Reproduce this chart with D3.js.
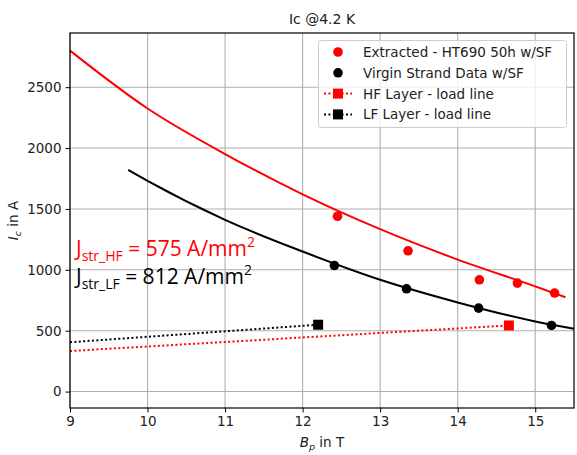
<!DOCTYPE html>
<html>
<head>
<meta charset="utf-8">
<script src="https://cdn.jsdelivr.net/npm/d3@7"></script>
<style>
	body { margin: 0; background: #fff; }
	text { font-family: "DejaVu Sans", sans-serif; }
</style>
</head>
<body>
<svg id="chart"></svg>
<script>
// Extracted Ic (HT690 50h w/SF)
const extractedB = [12.45, 13.36, 14.28, 14.77, 15.25];
const extractedIc = [1440, 1156, 918, 891, 809];

// Virgin strand data w/SF
const virginB = [12.41, 13.34, 14.27, 15.21];
const virginIc = [1035, 844, 685, 543];

// fitted curves
const redFitB = [9, 10, 11, 12, 13, 14, 15, 15.39];
const redFitIc = [2800, 2325, 1951, 1620, 1334, 1084, 864, 775];
const blackFitB = [9.75, 10, 11, 12, 13, 14, 15, 15.5];
const blackFitIc = [1820, 1730, 1410, 1150, 918, 732, 576, 516];

// load lines
const hfLoadB = [9, 14.66];
const hfLoadIc = [333, 543];
const lfLoadB = [9, 12.2];
const lfLoadIc = [405, 549];

const xTicks = [9, 10, 11, 12, 13, 14, 15];
const yTicks = [0, 500, 1000, 1500, 2000, 2500];

const width = 577;
const height = 455;
const margin = { top: 33, right: 3, bottom: 47, left: 70 };

const svg = d3.select("#chart")
	.attr("width", width)
	.attr("height", height);

const x = d3.scaleLinear()
	.domain([9, 15.5])
	.range([margin.left, width - margin.right]);

const y = d3.scaleLinear()
	.domain([-135, 2945])
	.range([height - margin.bottom, margin.top]);

const zip = (a, b) => a.map((v, i) => [v, b[i]]);

// grid
svg.append("g")
	.selectAll("line")
	.data(xTicks)
	.join("line")
	.attr("x1", (d) => x(d)).attr("x2", (d) => x(d))
	.attr("y1", margin.top).attr("y2", height - margin.bottom)
	.attr("stroke", "#b0b0b0").attr("stroke-width", 1.1);

svg.append("g")
	.selectAll("line")
	.data(yTicks)
	.join("line")
	.attr("x1", margin.left).attr("x2", width - margin.right)
	.attr("y1", (d) => y(d)).attr("y2", (d) => y(d))
	.attr("stroke", "#b0b0b0").attr("stroke-width", 1.1);

// axes
const xAxis = svg.append("g")
	.attr("transform", `translate(0,${height - margin.bottom})`)
	.call(d3.axisBottom(x).tickValues(xTicks).tickSize(4.5).tickPadding(4).tickFormat(d3.format("d")));
const yAxis = svg.append("g")
	.attr("transform", `translate(${margin.left},0)`)
	.call(d3.axisLeft(y).tickValues(yTicks).tickSize(4.5).tickPadding(4).tickFormat(d3.format("d")));

[xAxis, yAxis].forEach((g) => {
	g.select(".domain").remove();
	g.selectAll("text")
		.style("font-family", "DejaVu Sans")
		.style("font-size", "13.5px")
		.attr("fill", "#222");
	g.selectAll("line").attr("stroke", "#000").attr("stroke-width", 1);
});

const plotArea = svg.append("g");

const line = d3.line()
	.x((d) => x(d[0]))
	.y((d) => y(d[1]))
	.curve(d3.curveMonotoneX);

// fit curves
plotArea.append("path")
	.datum(zip(redFitB, redFitIc))
	.attr("d", line)
	.attr("fill", "none")
	.attr("stroke", "red")
	.attr("stroke-width", 2);

plotArea.append("path")
	.datum(zip(blackFitB, blackFitIc))
	.attr("d", line)
	.attr("fill", "none")
	.attr("stroke", "black")
	.attr("stroke-width", 2);

// load lines
const loadLines = [
	{ pts: zip(hfLoadB, hfLoadIc), color: "red" },
	{ pts: zip(lfLoadB, lfLoadIc), color: "black" }
];

plotArea.selectAll(".load")
	.data(loadLines)
	.join("path")
	.attr("class", "load")
	.attr("d", (d) => d3.line().x((p) => x(p[0])).y((p) => y(p[1]))(d.pts))
	.attr("fill", "none")
	.attr("stroke", (d) => d.color)
	.attr("stroke-width", 2)
	.attr("stroke-dasharray", "2,2.4");

plotArea.selectAll(".loadpt")
	.data(loadLines)
	.join("rect")
	.attr("class", "loadpt")
	.attr("x", (d) => x(d.pts[1][0]) - 5)
	.attr("y", (d) => y(d.pts[1][1]) - 5)
	.attr("width", 10)
	.attr("height", 10)
	.attr("fill", (d) => d.color);

// data points
plotArea.selectAll(".virgin")
	.data(zip(virginB, virginIc))
	.join("circle")
	.attr("class", "virgin")
	.attr("cx", (d) => x(d[0]))
	.attr("cy", (d) => y(d[1]))
	.attr("r", 4.8)
	.attr("fill", "black");

plotArea.selectAll(".extracted")
	.data(zip(extractedB, extractedIc))
	.join("circle")
	.attr("class", "extracted")
	.attr("cx", (d) => x(d[0]))
	.attr("cy", (d) => y(d[1]))
	.attr("r", 4.8)
	.attr("fill", "red");

// frame
svg.append("rect")
	.attr("x", margin.left)
	.attr("y", margin.top)
	.attr("width", width - margin.left - margin.right)
	.attr("height", height - margin.top - margin.bottom)
	.attr("fill", "none")
	.attr("stroke", "black")
	.attr("stroke-width", 1.2);

// title and axis labels
svg.append("text")
	.attr("x", (margin.left + width - margin.right) / 2)
	.attr("y", 24)
	.attr("text-anchor", "middle")
	.style("font-size", "14px")
	.attr("fill", "#222")
	.text("Ic @4.2 K");

const xLabel = svg.append("text")
	.attr("x", (margin.left + width - margin.right) / 2)
	.attr("y", 447)
	.attr("text-anchor", "middle")
	.style("font-size", "13.5px")
	.attr("fill", "#222");
xLabel.append("tspan").style("font-style", "italic").text("B");
xLabel.append("tspan").style("font-style", "italic").style("font-size", "9.5px").attr("dy", 3).text("p");
xLabel.append("tspan").attr("dy", -3).text(" in T");

const yLabel = svg.append("text")
	.attr("transform", `translate(18,${(margin.top + height - margin.bottom) / 2}) rotate(-90)`)
	.attr("text-anchor", "middle")
	.style("font-size", "13.5px")
	.attr("fill", "#222");
yLabel.append("tspan").style("font-style", "italic").text("I");
yLabel.append("tspan").style("font-style", "italic").style("font-size", "9.5px").attr("dy", 3).text("c");
yLabel.append("tspan").attr("dy", -3).text(" in A");

// J annotations
const notes = [
	{ sub: "str_HF", rest: " = 575 A/mm", color: "red", yv: 1110 },
	{ sub: "str_LF", rest: " = 812 A/mm", color: "black", yv: 880 }
];
notes.forEach((n) => {
	const t = svg.append("text")
		.attr("x", 76)
		.attr("y", y(n.yv))
		.attr("fill", n.color)
		.style("font-family", "'Open Sans', sans-serif")
		.style("font-size", "21px");
	t.append("tspan").text("J");
	t.append("tspan").style("font-size", "14px").attr("dy", 5).text(n.sub);
	t.append("tspan").attr("dy", -5).text(n.rest);
	t.append("tspan").style("font-size", "14px").attr("dy", -9).text("2");
});

// legend
const legend = svg.append("g");
legend.append("rect")
	.attr("x", 318.5).attr("y", 40.5)
	.attr("width", 248).attr("height", 87)
	.attr("rx", 3)
	.attr("fill", "white").attr("fill-opacity", 0.8)
	.attr("stroke", "#cccccc");

const legendItems = [
	{ label: "Extracted - HT690 50h w/SF", color: "red", kind: "dot" },
	{ label: "Virgin Strand Data w/SF", color: "black", kind: "dot" },
	{ label: "HF Layer - load line", color: "red", kind: "load" },
	{ label: "LF Layer - load line", color: "black", kind: "load" }
];

const rows = legend.selectAll(".row")
	.data(legendItems)
	.join("g")
	.attr("class", "row")
	.attr("transform", (d, i) => `translate(0,${52 + i * 20.8})`);

rows.filter((d) => d.kind === "dot")
	.append("circle")
	.attr("cx", 338).attr("cy", 0).attr("r", 4.8)
	.attr("fill", (d) => d.color);

rows.filter((d) => d.kind === "load")
	.append("line")
	.attr("x1", 324).attr("x2", 352).attr("y1", 0).attr("y2", 0)
	.attr("stroke", (d) => d.color)
	.attr("stroke-width", 2)
	.attr("stroke-dasharray", "2,2.4");

rows.filter((d) => d.kind === "load")
	.append("rect")
	.attr("x", 333).attr("y", -5).attr("width", 10).attr("height", 10)
	.attr("fill", (d) => d.color);

rows.append("text")
	.attr("x", 363)
	.attr("y", 5)
	.style("font-size", "13.5px")
	.attr("fill", "#222")
	.text((d) => d.label);
</script>
</body>
</html>
